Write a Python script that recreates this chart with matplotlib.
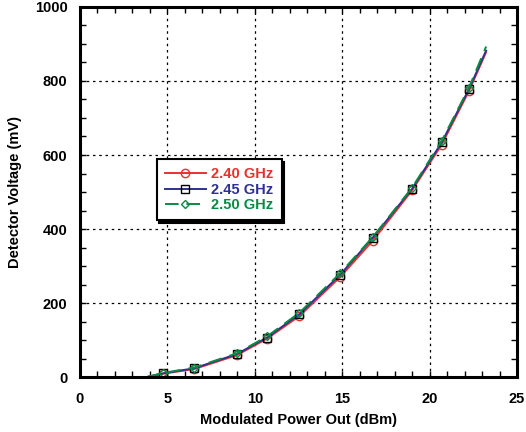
import matplotlib
matplotlib.use("Agg")
import matplotlib.pyplot as plt
from matplotlib.ticker import MultipleLocator

plt.rcParams['font.family'] = ['Liberation Sans', 'DejaVu Sans']
plt.rcParams['font.weight'] = 'bold'

# data
power = [3.8, 4.73, 6.54, 8.96, 10.7, 12.55, 14.87, 16.74, 19.0, 20.69, 22.25, 23.23]
v240 = [0, 9, 22, 59, 104, 165, 270, 368, 505, 628, 773, 878]
v245 = [0, 10, 24, 62, 107, 170, 276, 376, 509, 634, 778, 882]
v250 = [0, 11, 26, 64, 110, 174, 280, 378, 512, 638, 782, 893]
labels = ["2.40 GHz", "2.45 GHz", "2.50 GHz"]
colors = ["#e8312f", "#2e3192", "#0a8a45"]

marks = list(range(1, len(power) - 1))

fig = plt.figure(figsize=(5.26, 4.32), dpi=100)
ax = fig.add_axes([0.152, 0.127, 0.831, 0.857])

ax.plot(power, v240, color=colors[0], lw=1.4, marker='o', ms=6, mfc='none',
        mec=colors[0], mew=1.0, markevery=marks, label=labels[0])
ax.plot(power, v245, color=colors[1], lw=1.4, marker='s', ms=5.2, mfc='none',
        mec='black', mew=1.0, markevery=marks, label=labels[1])
ax.plot(power, v250, color=colors[2], lw=1.4, ls=(0, (7, 4)), marker='D', ms=4,
        mfc='none', mec=colors[2], mew=1.0, markevery=marks, label=labels[2])

ax.set_xlim(0, 25)
ax.set_ylim(0, 1000)
ax.xaxis.set_major_locator(MultipleLocator(5))
ax.xaxis.set_minor_locator(MultipleLocator(1))
ax.yaxis.set_major_locator(MultipleLocator(200))
ax.yaxis.set_minor_locator(MultipleLocator(50))
ax.tick_params(which='both', direction='in', top=True, right=True, length=4,
               width=1, labelsize=10.5)
ax.tick_params(axis='x', pad=11)
ax.tick_params(axis='y', pad=9)
for s in ax.spines.values():
    s.set_linewidth(2.2)
ax.grid(True, which='major', color='black', ls=(0, (2, 3)), lw=0.9)

ax.set_xlabel("Modulated Power Out (dBm)", fontsize=10.5, fontweight='bold', labelpad=5)
ax.set_ylabel("Detector Voltage (mV)", fontsize=10.5, fontweight='bold', labelpad=9)

leg = ax.legend(loc='upper left', bbox_to_anchor=(0.1755, 0.588), borderaxespad=0,
                frameon=True, fancybox=False, framealpha=1, edgecolor='black',
                shadow={'color': 'black', 'alpha': 1}, handlelength=2.8,
                handletextpad=0.4, labelspacing=0.1, borderpad=0.55,
                prop={'size': 10.5, 'weight': 'bold'})
leg.get_frame().set_linewidth(1.5)
for t, c in zip(leg.get_texts(), colors):
    t.set_color(c)

fig.savefig("out.png", dpi=100)
